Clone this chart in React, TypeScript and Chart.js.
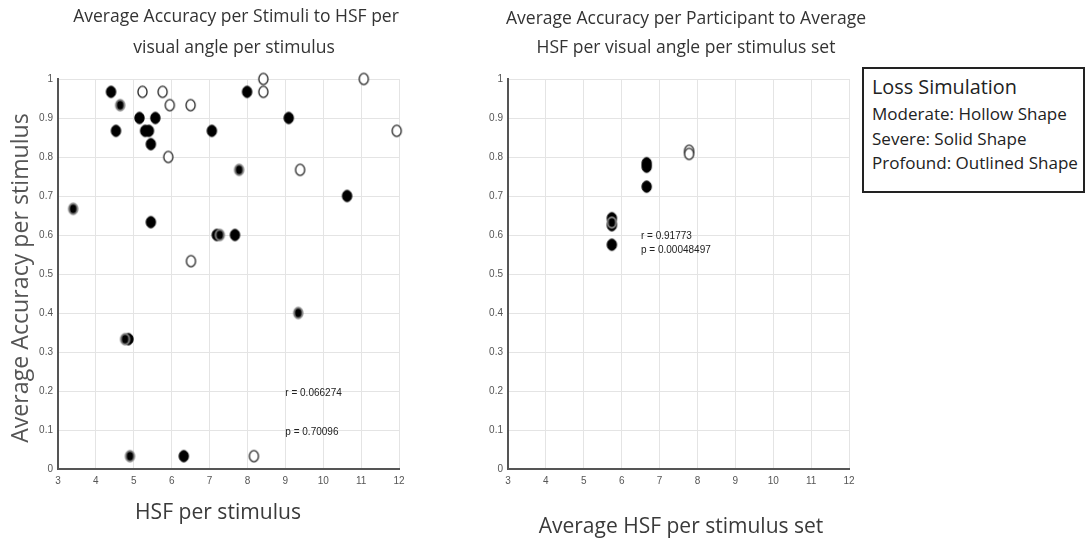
import React, { useEffect, useRef } from "react";
import { Chart, registerables } from "chart.js";

Chart.register(...registerables);

// ---------- data ----------
const xTicks = [3, 4, 5, 6, 7, 8, 9, 10, 11, 12];
const yTicks = [0, 0.1, 0.2, 0.3, 0.4, 0.5, 0.6, 0.7, 0.8, 0.9, 1];

// Left chart: per stimulus
const leftModerateX = [5.23, 5.76, 5.95, 6.5, 5.91, 8.42, 8.42, 11.07, 11.94, 9.39, 6.51, 8.17];
const leftModerateY = [0.967, 0.967, 0.933, 0.933, 0.8, 1.0, 0.967, 1.0, 0.867, 0.767, 0.533, 0.033];
const leftSevereX = [4.4, 4.53, 5.15, 5.57, 5.3, 5.4, 5.45, 7.06, 7.99, 9.09, 5.45, 7.19, 7.67, 10.63, 4.86, 6.32];
const leftSevereY = [0.967, 0.867, 0.9, 0.9, 0.867, 0.867, 0.833, 0.867, 0.967, 0.9, 0.633, 0.6, 0.6, 0.7, 0.333, 0.033];
const leftProfoundX = [4.64, 7.78, 3.4, 7.27, 4.77, 4.9, 9.34];
const leftProfoundY = [0.933, 0.767, 0.667, 0.6, 0.333, 0.033, 0.4];

// Right chart: per participant
const rightModerateX = [7.78, 7.78];
const rightModerateY = [0.816, 0.808];
const rightSevereX = [5.74, 5.74, 5.74, 6.66, 6.66, 6.66];
const rightSevereY = [0.643, 0.625, 0.575, 0.784, 0.775, 0.724];
const rightProfoundX = [5.74];
const rightProfoundY = [0.632];

const leftTitle = ["Average Accuracy per Stimuli to HSF per", "visual angle per stimulus"];
const rightTitle = ["Average Accuracy per Participant to Average", "HSF per visual angle per stimulus set"];
const leftXTitle = "HSF per stimulus";
const leftYTitle = "Average Accuracy per stimulus";
const rightXTitle = "Average HSF per stimulus set";
const leftStats = ["r = 0.066274", "p = 0.70096"];
const leftStatsPos = [[9.0, 0.195], [9.0, 0.095]];
const rightStats = ["r = 0.91773", "p = 0.00048497"];
const rightStatsPos = [[6.51, 0.597], [6.51, 0.562]];

const legendTitle = "Loss Simulation";
const legendLines = ["Moderate: Hollow Shape", "Severe: Solid Shape", "Profound: Outlined Shape"];

// ---------- helpers ----------
const zip = (xs: number[], ys: number[]) => xs.map((x, i) => ({ x, y: ys[i] }));

const TITLE_FONT = "'Open Sans', 'Noto Sans', sans-serif";
const TICK_FONT = "'Liberation Sans Narrow', 'Liberation Sans', Arial, sans-serif";

let measureCtx: CanvasRenderingContext2D | null = null;
function fitSize(text: string, family: string, target: number) {
  if (!measureCtx) measureCtx = document.createElement("canvas").getContext("2d");
  const c = measureCtx!;
  c.font = `100px ${family}`;
  const w = c.measureText(text).width || 1;
  return (100 * target) / w;
}

function markerImage(fill: string, stroke: string, lw: number) {
  const w = 13;
  const h = 15;
  const c = document.createElement("canvas");
  c.width = w;
  c.height = h;
  const ctx = c.getContext("2d")!;
  ctx.beginPath();
  ctx.ellipse(w / 2, h / 2, 4.6 - lw / 2 + 0.6, 5.6 - lw / 2 + 0.6, 0, 0, Math.PI * 2);
  ctx.fillStyle = fill;
  ctx.fill();
  ctx.lineWidth = lw;
  ctx.strokeStyle = stroke;
  ctx.stroke();
  return c;
}

function datasets(mx: number[], my: number[], sx: number[], sy: number[], px: number[], py: number[]) {
  const hollow = markerImage("#ffffff", "#222222", 1.3);
  const outlined = markerImage("#000000", "#808080", 2);
  const solid = markerImage("#000000", "#000000", 1);
  return [
    { label: "Moderate", data: zip(mx, my), pointStyle: hollow, pointRadius: 6, clip: false as any },
    { label: "Profound", data: zip(px, py), pointStyle: outlined, pointRadius: 6, clip: false as any },
    { label: "Severe", data: zip(sx, sy), pointStyle: solid, pointRadius: 6, clip: false as any },
  ];
}

type TextItem = {
  text: string;
  x: number;
  y: number;
  size: number;
  family: string;
  color: string;
  rotate?: boolean;
};

function makeConfig(opts: {
  ds: any[];
  yAxisWidth: number;
  padRight: number;
  texts: TextItem[];
  stats: string[];
  statsPos: number[][];
}) {
  const textPlugin = {
    id: "customTexts",
    afterDraw(chart: any) {
      const ctx = chart.ctx as CanvasRenderingContext2D;
      ctx.save();
      ctx.textBaseline = "middle";
      ctx.textAlign = "center";
      for (const t of opts.texts) {
        ctx.font = `${t.size}px ${t.family}`;
        ctx.fillStyle = t.color;
        if (t.rotate) {
          ctx.save();
          ctx.translate(t.x, t.y);
          ctx.rotate(-Math.PI / 2);
          ctx.fillText(t.text, 0, 0);
          ctx.restore();
        } else {
          ctx.fillText(t.text, t.x, t.y);
        }
      }
      const xs = chart.scales.x;
      const ys = chart.scales.y;
      ctx.font = "10px " + TICK_FONT;
      ctx.fillStyle = "#222222";
      ctx.textAlign = "left";
      opts.stats.forEach((s, i) => {
        const [vx, vy] = opts.statsPos[i];
        ctx.fillText(s, xs.getPixelForValue(vx), ys.getPixelForValue(vy));
      });
      ctx.restore();
    },
  };

  return {
    type: "scatter" as const,
    data: { datasets: opts.ds },
    options: {
      animation: false as const,
      responsive: false,
      devicePixelRatio: 1,
      layout: { padding: { top: 79, right: opts.padRight, left: 0, bottom: 0 } },
      plugins: {
        legend: { display: false },
        tooltip: { enabled: false },
        title: { display: false },
      },
      scales: {
        x: {
          type: "linear" as const,
          min: 3,
          max: 12,
          afterBuildTicks: (s: any) => {
            s.ticks = xTicks.map((v) => ({ value: v }));
          },
          afterFit: (s: any) => {
            s.height = 75;
          },
          ticks: {
            color: "#555555",
            font: { family: TICK_FONT, size: 10 },
            padding: 6,
            maxRotation: 0,
            callback: (v: any) => String(v),
          },
          grid: { color: "#e4e4e4", lineWidth: 1, drawTicks: false },
          border: { display: true, color: "#555555", width: 2 },
        },
        y: {
          type: "linear" as const,
          min: 0,
          max: 1,
          afterBuildTicks: (s: any) => {
            s.ticks = yTicks.map((v) => ({ value: v }));
          },
          afterFit: (s: any) => {
            s.width = opts.yAxisWidth;
          },
          ticks: {
            color: "#555555",
            font: { family: TICK_FONT, size: 10 },
            padding: 5,
            callback: (v: any) => String(Number(Number(v).toFixed(1))),
          },
          grid: { color: "#e4e4e4", lineWidth: 1, drawTicks: false },
          border: { display: true, color: "#555555", width: 2 },
        },
      },
    },
    plugins: [textPlugin],
  };
}

function titleSize() {
  return fitSize(leftTitle[0], TITLE_FONT, 326);
}

function LeftChart() {
  const ref = useRef<HTMLCanvasElement | null>(null);
  useEffect(() => {
    if (!ref.current) return;
    const ts = titleSize();
    const xs = fitSize(leftXTitle, TITLE_FONT, 166);
    const ys = fitSize(leftYTitle, TITLE_FONT, 330);
    const cfg = makeConfig({
      ds: datasets(leftModerateX, leftModerateY, leftSevereX, leftSevereY, leftProfoundX, leftProfoundY),
      yAxisWidth: 58,
      padRight: 31,
      texts: [
        { text: leftTitle[0], x: 236, y: 17, size: ts, family: TITLE_FONT, color: "#333333" },
        { text: leftTitle[1], x: 234, y: 48, size: ts, family: TITLE_FONT, color: "#333333" },
        { text: leftXTitle, x: 218, y: 513, size: xs, family: TITLE_FONT, color: "#3a3a3a" },
        { text: leftYTitle, x: 21, y: 278, size: ys, family: TITLE_FONT, color: "#555555", rotate: true },
      ],
      stats: leftStats,
      statsPos: leftStatsPos,
    });
    const chart = new Chart(ref.current, cfg as any);
    return () => chart.destroy();
  }, []);
  return <canvas ref={ref} width={430} height={544} style={{ position: "absolute", left: 0, top: 0 }} />;
}

function RightChart() {
  const ref = useRef<HTMLCanvasElement | null>(null);
  useEffect(() => {
    if (!ref.current) return;
    const ts = titleSize();
    const xs = fitSize(rightXTitle, TITLE_FONT, 285);
    const cfg = makeConfig({
      ds: datasets(rightModerateX, rightModerateY, rightSevereX, rightSevereY, rightProfoundX, rightProfoundY),
      yAxisWidth: 68,
      padRight: 31,
      texts: [
        { text: rightTitle[0], x: 686 - 440, y: 19, size: ts, family: TITLE_FONT, color: "#333333" },
        { text: rightTitle[1], x: 686 - 440, y: 48, size: ts, family: TITLE_FONT, color: "#333333" },
        { text: rightXTitle, x: 681 - 440, y: 527, size: xs, family: TITLE_FONT, color: "#3a3a3a" },
      ],
      stats: rightStats,
      statsPos: rightStatsPos,
    });
    const chart = new Chart(ref.current, cfg as any);
    return () => chart.destroy();
  }, []);
  return <canvas ref={ref} width={440} height={544} style={{ position: "absolute", left: 440, top: 0 }} />;
}

function LegendBox() {
  const titleFs = fitSize(legendTitle, TITLE_FONT, 145);
  const lineFs = fitSize(legendLines[0], TITLE_FONT, 195);
  const centers = [87 - 67, 114 - 67, 139 - 67, 163 - 67];
  return (
    <div
      style={{
        position: "absolute",
        left: 862,
        top: 67,
        width: 223,
        height: 126,
        boxSizing: "border-box",
        border: "2px solid #222222",
        background: "#ffffff",
        fontFamily: TITLE_FONT,
        color: "#222222",
      }}
    >
      {[legendTitle, ...legendLines].map((l, i) => (
        <div
          key={l}
          style={{
            position: "absolute",
            left: 8,
            top: centers[i] - 2 - 14,
            height: 28,
            lineHeight: "28px",
            fontSize: i === 0 ? titleFs : lineFs,
            whiteSpace: "nowrap",
          }}
        >
          {l}
        </div>
      ))}
    </div>
  );
}

export default function App() {
  return (
    <div style={{ position: "absolute", left: 0, top: 0, width: 1087, height: 544, background: "#ffffff" }}>
      <LeftChart />
      <RightChart />
      <LegendBox />
    </div>
  );
}
